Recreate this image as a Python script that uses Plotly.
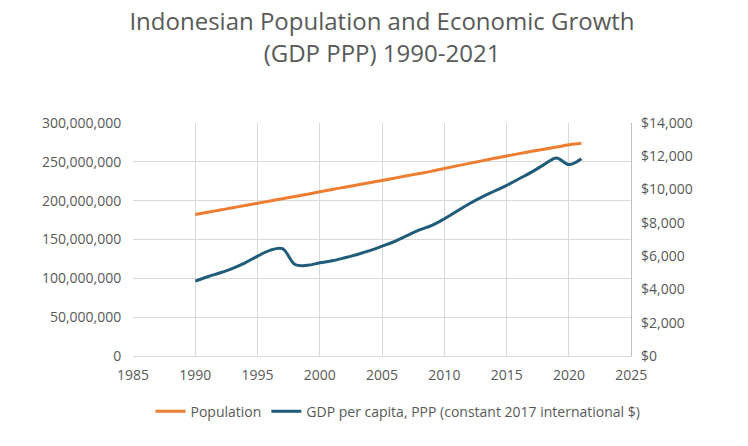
import pandas as pd
import plotly.graph_objects as go
from plotly.subplots import make_subplots


def create_chart(output_file):
    # Indonesian population and GDP per capita (PPP, constant 2017 intl $)
    years = list(range(1990, 2022))
    population = [182.2, 185.1, 188.0, 190.9, 193.8, 196.7, 199.6, 202.5, 205.4, 208.3,
                  211.5, 214.5, 217.4, 220.3, 223.2, 226.1, 229.0, 232.0, 235.0, 238.0,
                  241.5, 244.8, 248.0, 251.2, 254.5, 257.6, 260.6, 263.5, 266.3, 269.0,
                  271.9, 273.8]
    gdp_pc = [4500, 4760, 5000, 5270, 5600, 6000, 6350, 6450, 5500, 5450,
              5600, 5720, 5900, 6100, 6330, 6600, 6880, 7230, 7580, 7850,
              8250, 8700, 9150, 9550, 9900, 10250, 10650, 11050, 11500, 11900,
              11500, 11850]

    df = pd.DataFrame({'Year': years, 'Population': [p * 1e6 for p in population], 'GDP': gdp_pc})

    fig = make_subplots(specs=[[{"secondary_y": True}]])

    # Population (left axis)
    fig.add_trace(
        go.Scatter(x=df['Year'], y=df['Population'], name='Population', mode='lines',
                   line=dict(color='#ED7D31', width=3, shape='spline')),
        secondary_y=False
    )

    # GDP per capita (right axis)
    fig.add_trace(
        go.Scatter(x=df['Year'], y=df['GDP'], name='GDP per capita, PPP (constant 2017 international $)',
                   mode='lines', line=dict(color='#1F5C7A', width=3, shape='spline')),
        secondary_y=True
    )

    fig.update_layout(
        title=dict(text="Indonesian Population and Economic Growth<br>(GDP PPP) 1990-2021",
                   x=0.5, xanchor='center', yref='container', y=0.95, yanchor='top',
                   font={'size': 24, 'color': '#595959'}),
        width=748, height=446,
        paper_bgcolor='white', plot_bgcolor='white',
        font={'family': 'Open Sans, sans-serif', 'size': 14, 'color': '#595959'},
        margin={'l': 125, 'r': 93, 't': 115, 'b': 98},
        showlegend=True,
        legend=dict(orientation='h', x=0.5, xanchor='center', y=-0.17, yanchor='top',
                    font={'size': 14, 'color': '#595959'}),
    )

    # Axes with Excel-like gridlines
    fig.update_xaxes(range=[1985, 2025], dtick=5, showgrid=True, gridcolor='#D9D9D9',
                     ticks='outside', ticklen=6, tickcolor='white',
                     zeroline=False, showline=True, linecolor='#D9D9D9')
    fig.update_yaxes(range=[0, 300e6], dtick=50e6, tickformat=',', gridcolor='#D9D9D9',
                     ticks='outside', ticklen=8, tickcolor='white',
                     zeroline=False, secondary_y=False)
    fig.update_yaxes(range=[0, 14000], dtick=2000, tickformat='$,', showgrid=False,
                     ticks='outside', ticklen=6, tickcolor='white',
                     zeroline=False, showline=True, linecolor='#BFBFBF', secondary_y=True)

    fig.write_html(output_file)


if __name__ == "__main__":
    create_chart("out.html")
